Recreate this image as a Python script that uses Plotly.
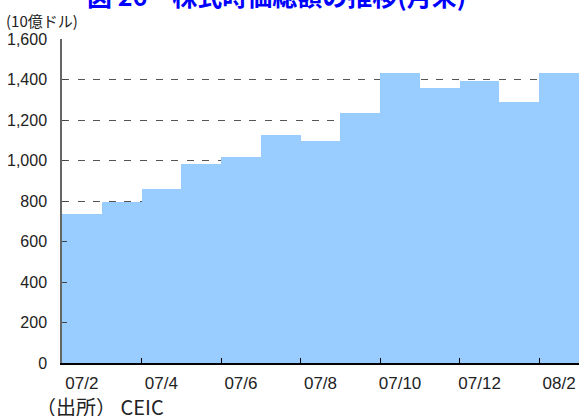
import plotly.graph_objects as go

months = ["07/2", "07/3", "07/4", "07/5", "07/6", "07/7", "07/8",
          "07/9", "07/10", "07/11", "07/12", "08/1", "08/2"]
market_cap = [737, 797, 859, 984, 1017, 1126, 1097, 1236, 1434, 1359, 1393, 1290, 1434]
y_ticks = [0, 200, 400, 600, 800, 1000, 1200, 1400, 1600]
y_tick_text = ["0", "200", "400", "600", "800", "1,000", "1,200", "1,400", "1,600"]

W, H = 579, 416
ML, MR, MT, MB = 62, 0, 39, 53
PW, PH = W - ML - MR, H - MT - MB

def px_x(px):
    return (px - ML) / PW

def px_y(py):
    return (H - MB - py) / PH

idx = list(range(len(months)))
label_idx = idx[::2]
boundary_ticks = [i + 0.5 for i in idx[1:-1:2]]

fig = go.Figure()
fig.add_trace(go.Bar(
    x=idx, y=market_cap, width=1.0,
    marker=dict(color="#99CCFF", line=dict(width=0)),
    hoverinfo="skip", showlegend=False,
))

num_font = "Liberation Sans Narrow, Arial Narrow, sans-serif"
cjk_font = "Noto Sans CJK JP, sans-serif"

fig.update_layout(
    width=W, height=H,
    margin=dict(l=ML, r=MR, t=MT, b=MB, pad=0, autoexpand=False),
    plot_bgcolor="white", paper_bgcolor="white",
    bargap=0,
    xaxis=dict(
        range=[-0.5, len(months) - 0.5],
        tickmode="array", tickvals=label_idx,
        ticktext=[months[i] for i in label_idx],
        ticks="", showline=True, linecolor="black", linewidth=2,
        showgrid=False, zeroline=False, automargin=False,
        tickfont=dict(family=num_font, size=17, color="#222"),
        ticklabelstandoff=4,
        minor=dict(tickmode="array", tickvals=boundary_ticks, ticks="inside",
                   ticklen=5, tickcolor="black", tickwidth=1, showgrid=False),
    ),
    yaxis=dict(
        range=[0, 1600],
        tickmode="array", tickvals=y_ticks, ticktext=y_tick_text,
        ticks="inside", ticklen=5, tickcolor="#444", tickwidth=1,
        showline=True, linecolor="#666", linewidth=1.5,
        showgrid=True, gridcolor="#555", gridwidth=1.4, griddash="7px,8.6px",
        zeroline=False, automargin=False,
        tickfont=dict(family=num_font, size=16, color="#222"),
        ticklabelstandoff=10,
    ),
    annotations=[
        dict(text="<b>図 26　株式時価総額の推移(月末)</b>", xref="paper", yref="paper",
             x=px_x(276), y=px_y(15), xanchor="center", yanchor="bottom",
             showarrow=False, font=dict(family=cjk_font, size=25, color="#0000FF")),
        dict(text="(10億ドル)", xref="paper", yref="paper",
             x=px_x(4), y=px_y(21), xanchor="left", yanchor="middle",
             showarrow=False, font=dict(family=cjk_font, size=15, color="#222")),
        dict(text="（出所） CEIC", xref="paper", yref="paper",
             x=px_x(34), y=px_y(406), xanchor="left", yanchor="middle",
             showarrow=False, font=dict(family=cjk_font, size=20, color="#222")),
    ],
)

fig.write_html("out.html",
               config={"displayModeBar": False},
               post_script="document.body.style.margin='0';document.body.style.overflow='hidden';")
